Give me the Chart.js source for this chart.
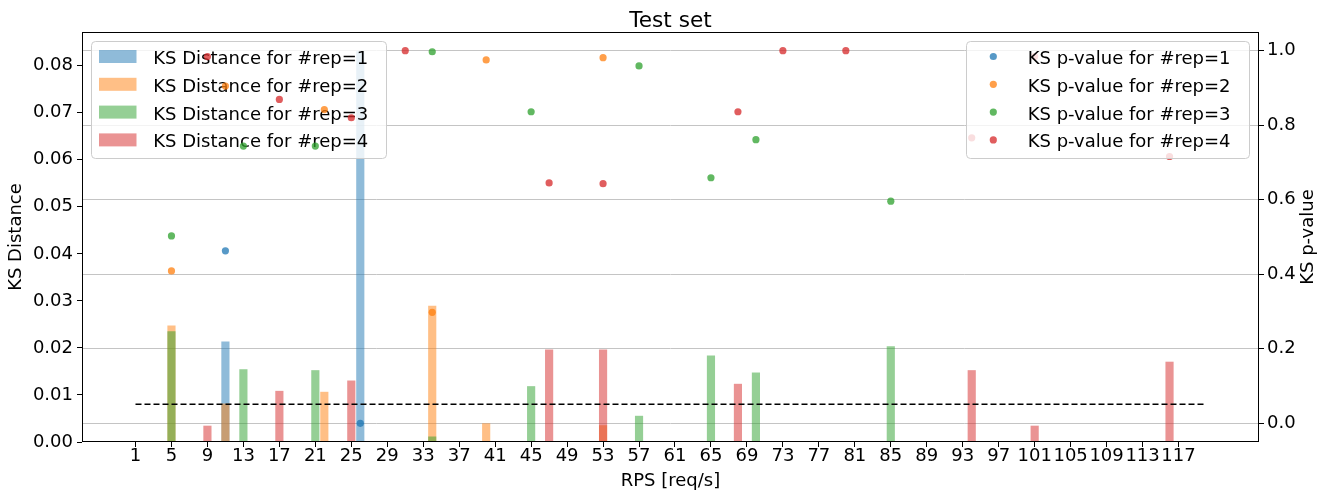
<!DOCTYPE html>
<html>
<head>
<meta charset="utf-8">
<script src="https://cdn.jsdelivr.net/npm/chart.js@4/dist/chart.umd.min.js"></script>
<style>
html,body{margin:0;padding:0;background:#fff;}
#wrap{width:1331px;height:495px;position:relative;}
</style>
</head>
<body>
<div id="wrap"><canvas id="c" width="1331" height="495"></canvas></div>
<script>
// ---- data ----
const xTicks = [1,5,9,13,17,21,25,29,33,37,41,45,49,53,57,61,65,69,73,77,81,85,89,93,97,101,105,109,113,117];
const yLeftTicks = [0,0.01,0.02,0.03,0.04,0.05,0.06,0.07,0.08];
const yRightTicks = [0,0.2,0.4,0.6,0.8,1.0];

const rep1Rps  = [11, 26];
const rep1Dist = [0.0213, 0.0830];
const rep1P    = [0.463, 0.0];

const rep2Rps  = [5, 11, 22, 34, 40, 53];
const rep2Dist = [0.0247, 0.0081, 0.0106, 0.0289, 0.0039, 0.0035];
const rep2P    = [0.409, 0.905, 0.842, 0.298, 0.975, 0.981];

const rep3Rps  = [5, 13, 21, 34, 45, 57, 65, 70, 85];
const rep3Dist = [0.0235, 0.0154, 0.0152, 0.0011, 0.0118, 0.0055, 0.0183, 0.0147, 0.0203];
const rep3P    = [0.503, 0.744, 0.744, 0.997, 0.836, 0.959, 0.659, 0.761, 0.596];

const rep4Rps  = [9, 17, 25, 31, 47, 53, 68, 73, 80, 94, 101, 116];
const rep4Dist = [0.0034, 0.0108, 0.0130, 0.0, 0.0196, 0.0196, 0.0123, 0.0, 0.0, 0.0152, 0.0034, 0.0170];
const rep4P    = [0.984, 0.869, 0.820, 1.0, 0.645, 0.643, 0.836, 1.0, 1.0, 0.766, 0.984, 0.716];

const thresholdX = [1, 120];
const thresholdY = [0.008, 0.008];

const barLabels = ['KS Distance for #rep=1','KS Distance for #rep=2','KS Distance for #rep=3','KS Distance for #rep=4'];
const pLabels   = ['KS p-value for #rep=1','KS p-value for #rep=2','KS p-value for #rep=3','KS p-value for #rep=4'];

// ---- styles ----
const FONT = 'DejaVu Sans';
const rgb = [[31,119,180],[255,127,14],[44,160,44],[214,39,40]];
const rgba = (c,a) => `rgba(${c[0]},${c[1]},${c[2]},${a})`;
const BAR_A = 0.5, DOT_A = 0.75;

const pts = (xs, ys) => xs.map((x,i) => ({x:x, y:ys[i]}));
const reps = [[rep1Rps,rep1Dist,rep1P],[rep2Rps,rep2Dist,rep2P],[rep3Rps,rep3Dist,rep3P],[rep4Rps,rep4Dist,rep4P]];

const datasets = [];
reps.forEach((r,i) => {
  datasets.push({
    type:'bar', label: barLabels[i], data: pts(r[0], r[1]),
    backgroundColor: rgba(rgb[i], BAR_A), borderWidth: 0,
    barThickness: 7.5, grouped: false, order: 8 - i, xAxisID:'x', yAxisID:'y'
  });
});
const dashIndex = datasets.length;
datasets.push({
  type:'line', label:'threshold', data: pts(thresholdX, thresholdY),
  borderColor:'#000', borderWidth:1.5, borderDash:[6,3], pointRadius:0, fill:false,
  order: 4, xAxisID:'x', yAxisID:'y'
});
reps.forEach((r,i) => {
  datasets.push({
    type:'scatter', label: pLabels[i], data: pts(r[0], r[2]),
    backgroundColor: rgba(rgb[i], DOT_A), borderWidth: 0, pointRadius: 3.6,
    pointHoverRadius: 3.6, order: 3 - i, xAxisID:'x', yAxisID:'y2'
  });
});

function roundRect(ctx,x,y,w,h,r){
  ctx.beginPath();
  ctx.moveTo(x+r,y);
  ctx.arcTo(x+w,y,x+w,y+h,r);
  ctx.arcTo(x+w,y+h,x,y+h,r);
  ctx.arcTo(x,y+h,x,y,r);
  ctx.arcTo(x,y,x+w,y,r);
  ctx.closePath();
}
function drawLegend(ctx, box, labels, kind){
  ctx.save();
  roundRect(ctx, box.x, box.y, box.w, box.h, 4);
  ctx.fillStyle = 'rgba(255,255,255,0.8)';
  ctx.fill();
  ctx.strokeStyle = '#cccccc';
  ctx.lineWidth = 1;
  ctx.stroke();
  ctx.font = `18px "${FONT}"`;
  ctx.textBaseline = 'alphabetic';
  ctx.textAlign = 'left';
  labels.forEach((lab,i) => {
    const cy = box.y + 15 + i*27.8;
    if (kind === 'bar'){
      ctx.fillStyle = rgba(rgb[i], BAR_A);
      ctx.fillRect(box.hx, cy-6.5, 37.5, 13);
    } else {
      ctx.fillStyle = rgba(rgb[i], DOT_A);
      ctx.beginPath(); ctx.arc(box.hx, cy, 3.6, 0, Math.PI*2); ctx.fill();
    }
    ctx.fillStyle = '#000';
    ctx.fillText(lab, box.tx, cy + 7.4);
  });
  ctx.restore();
}

const customDraw = {
  id:'customDraw',
  afterDatasetDraw(chart, args){
    if (args.index === dashIndex){
      drawLegend(chart.ctx, {x:91.5, y:41.5, w:295, h:117, hx:99, tx:153.3}, barLabels, 'bar');
    }
  },
  afterDatasetsDraw(chart){
    const a = chart.chartArea, ctx = chart.ctx;
    ctx.save();
    ctx.strokeStyle = '#000'; ctx.lineWidth = 1;
    ctx.strokeRect(Math.round(a.left)+0.5, Math.round(a.top)+0.5, Math.round(a.right)-Math.round(a.left)-1, Math.round(a.bottom)-Math.round(a.top)-1);
    ctx.restore();
  },
  afterDraw(chart){
    const ctx = chart.ctx, a = chart.chartArea;
    drawLegend(ctx, {x:966.5, y:41.5, w:283, h:117, hx:993.3, tx:1027.7}, pLabels, 'dot');
    ctx.save();
    ctx.fillStyle = '#000';
    ctx.font = `21.6px "${FONT}"`;
    ctx.textAlign = 'center'; ctx.textBaseline = 'alphabetic';
    ctx.fillText('Test set', (a.left+a.right)/2, 26.6);
    ctx.font = `18px "${FONT}"`;
    ctx.translate(1308, (a.top+a.bottom)/2);
    ctx.rotate(-Math.PI/2);
    ctx.textBaseline = 'middle';
    ctx.fillText('KS p-value', 0, 0);
    ctx.restore();
  }
};

const tickFont = {family: FONT, size: 18};

new Chart(document.getElementById('c').getContext('2d'), {
  type:'bar',
  data:{datasets},
  plugins:[customDraw],
  options:{
    responsive:false, animation:false, devicePixelRatio:1,
    layout:{padding:{top:32, left:0, right:0, bottom:0}},
    plugins:{legend:{display:false}, title:{display:false}, tooltip:{enabled:false}},
    scales:{
      x:{
        type:'linear', position:'bottom', min:-4.95, max:125.95, offset:false,
        grid:{display:true, offset:false, drawOnChartArea:false, drawTicks:true, tickLength:5, color:'#000', tickColor:'#000'},
        border:{display:false},
        ticks:{autoSkip:false, maxRotation:0, minRotation:0, font:tickFont, color:'#000', padding:-1, callback:v=>String(v)},
        afterBuildTicks:s=>{ s.ticks = xTicks.map(v=>({value:v})); },
        afterFit:s=>{ s.height = 53; },
        title:{display:true, text:'RPS [req/s]', font:{family:FONT,size:18}, color:'#000', padding:{top:0,bottom:3}}
      },
      y:{
        type:'linear', position:'left', min:0, max:0.08716,
        grid:{display:true, offset:false, drawOnChartArea:false, drawTicks:true, tickLength:5, color:'#000', tickColor:'#000'},
        border:{display:false},
        ticks:{font:tickFont, color:'#000', padding:4, callback:v=>v.toFixed(2)},
        afterBuildTicks:s=>{ s.ticks = yLeftTicks.map(v=>({value:v})); },
        afterFit:s=>{ s.width = 82; },
        title:{display:true, text:'KS Distance', font:{family:FONT,size:18}, color:'#000', padding:{top:6,bottom:0}}
      },
      y2:{
        type:'linear', position:'right', min:-0.05, max:1.05,
        grid:{display:true, offset:false, drawOnChartArea:true, drawTicks:true, tickLength:5, color:'#c4c4c4', tickColor:'#000', lineWidth:1},
        border:{display:false},
        ticks:{font:tickFont, color:'#000', padding:3, callback:v=>v.toFixed(1)},
        afterBuildTicks:s=>{ s.ticks = yRightTicks.map(v=>({value:v})); },
        afterFit:s=>{ s.width = 72; },
        title:{display:false}
      }
    }
  }
});
</script>
</body>
</html>
